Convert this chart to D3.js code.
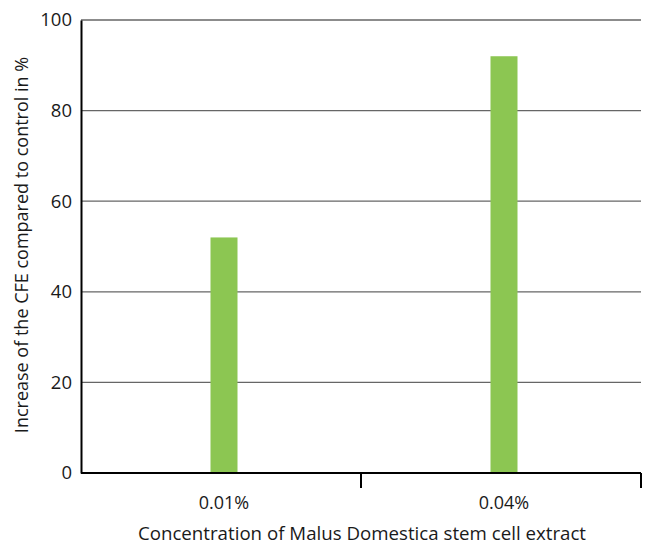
<!DOCTYPE html>
<html>
<head>
<meta charset="utf-8">
<script src="https://cdn.jsdelivr.net/npm/d3@7"></script>
<style>
  body { margin: 0; background: #fff; }
  svg { font-family: "Open Sans", Lato, sans-serif; }
</style>
</head>
<body>
<svg width="652" height="546"></svg>
<script>
// data
const categories = ['0.01%', '0.04%'];
const values = [52, 92];
const yTicks = [0, 20, 40, 60, 80, 100];

const margin = {top: 20, right: 11, bottom: 73, left: 81};
const W = 652, H = 546;

const svg = d3.select('svg');

const xScale = d3.scaleBand().domain(categories).range([margin.left, W - margin.right]);
const yScale = d3.scaleLinear().domain([0, 100]).range([H - margin.bottom, margin.top]);

// gridlines
svg.selectAll('.grid')
    .data(yTicks.filter(d => d > 0))
    .enter()
    .append('line')
    .attr('x1', margin.left)
    .attr('x2', W - margin.right)
    .attr('y1', d => yScale(d))
    .attr('y2', d => yScale(d))
    .attr('stroke', '#666')
    .attr('stroke-width', 1.3);

// bars
const barW = 27;
svg.selectAll('.bar')
    .data(values)
    .enter()
    .append('rect')
    .attr('x', (d, i) => xScale(categories[i]) + xScale.bandwidth() / 2 - barW / 2 + 3)
    .attr('y', d => yScale(d))
    .attr('width', barW)
    .attr('height', d => yScale(0) - yScale(d))
    .attr('fill', '#8cc652');

// y axis
const yAxis = svg.append('g')
    .attr('transform', `translate(${margin.left},0)`)
    .call(d3.axisLeft(yScale).tickValues(yTicks).tickSize(0).tickPadding(9));
yAxis.select('.domain').attr('stroke', '#000').attr('stroke-width', 2);
yAxis.selectAll('text').attr('font-size', 18.5).attr('fill', '#1a1a1a')
    .attr('font-family', '"Open Sans", sans-serif');

// x axis with ticks at band boundaries
const x0 = yScale(0);
svg.append('line')
    .attr('x1', margin.left).attr('x2', W - margin.right)
    .attr('y1', x0).attr('y2', x0)
    .attr('stroke', '#000').attr('stroke-width', 2);
svg.selectAll('.xtick')
    .data(categories)
    .enter()
    .append('line')
    .attr('x1', d => xScale(d) + xScale.bandwidth())
    .attr('x2', d => xScale(d) + xScale.bandwidth())
    .attr('y1', x0).attr('y2', x0 + 15)
    .attr('stroke', '#000').attr('stroke-width', 2);
svg.selectAll('.xlabel')
    .data(categories)
    .enter()
    .append('text')
    .attr('x', d => xScale(d) + xScale.bandwidth() / 2 + 3)
    .attr('y', x0 + 36)
    .attr('text-anchor', 'middle')
    .attr('font-size', 18)
    .attr('fill', '#1a1a1a')
    .text(d => d);

// axis titles
svg.append('text')
    .attr('x', 362)
    .attr('y', 540)
    .attr('text-anchor', 'middle')
    .attr('font-size', 18.7)
    .attr('fill', '#1a1a1a')
    .text('Concentration of Malus Domestica stem cell extract');

svg.append('text')
    .attr('transform', `translate(28,245) rotate(-90)`)
    .attr('text-anchor', 'middle')
    .attr('font-size', 18)
    .attr('fill', '#1a1a1a')
    .text('Increase of the CFE compared to control in %');
</script>
</body>
</html>
